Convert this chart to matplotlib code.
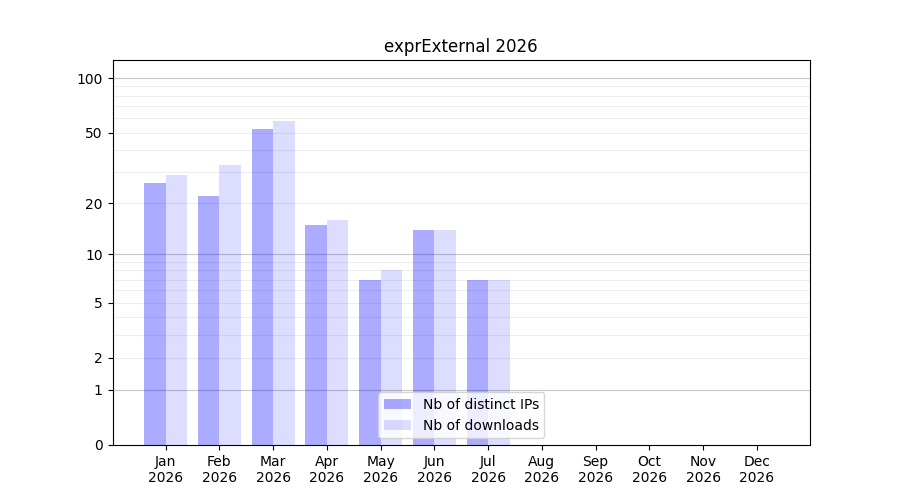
import numpy as np
import matplotlib
matplotlib.use("Agg")
import matplotlib.pyplot as plt

months = ["Jan", "Feb", "Mar", "Apr", "May", "Jun", "Jul", "Aug", "Sep", "Oct", "Nov", "Dec"]
year = 2026
distinct_ips = [26, 22, 52, 15, 7, 14, 7, 0, 0, 0, 0, 0]
downloads = [29, 33, 58, 16, 8, 14, 7, 0, 0, 0, 0, 0]
ytick_values = [0, 1, 2, 5, 10, 20, 50, 100]


def fwd(v):
    return np.log10(1.0 + np.maximum(v, 0.0))


def inv(v):
    return 10.0 ** v - 1.0


x = np.arange(len(months))
width = 0.4

fig, ax = plt.subplots(figsize=(9, 5), dpi=100)
ax.set_yscale("function", functions=(fwd, inv))

major_lines = [1, 10, 100]
minor_lines = [k * d for d in (1, 10, 100) for k in range(2, 10)]
for v in minor_lines:
    ax.axhline(v, color="#eeeeee", lw=0.8, zorder=0)
for v in major_lines:
    ax.axhline(v, color="#c8c8c8", lw=0.8, zorder=0)

ax.bar(x - width / 2, distinct_ips, width, color="blue", alpha=0.33, label="Nb of distinct IPs", zorder=1)
ax.bar(x + width / 2, downloads, width, color="blue", alpha=0.135, label="Nb of downloads", zorder=1)

ax.set_ylim(0, 126)
ax.set_yticks(ytick_values)
ax.set_yticklabels([str(v) for v in ytick_values])
ax.yaxis.set_minor_locator(matplotlib.ticker.NullLocator())
ax.set_xticks(x)
ax.set_xticklabels([f"{m}\n{year}" for m in months])
ax.set_title(f"exprExternal {year}")
ax.legend(loc="lower center")

fig.savefig("out.png")
